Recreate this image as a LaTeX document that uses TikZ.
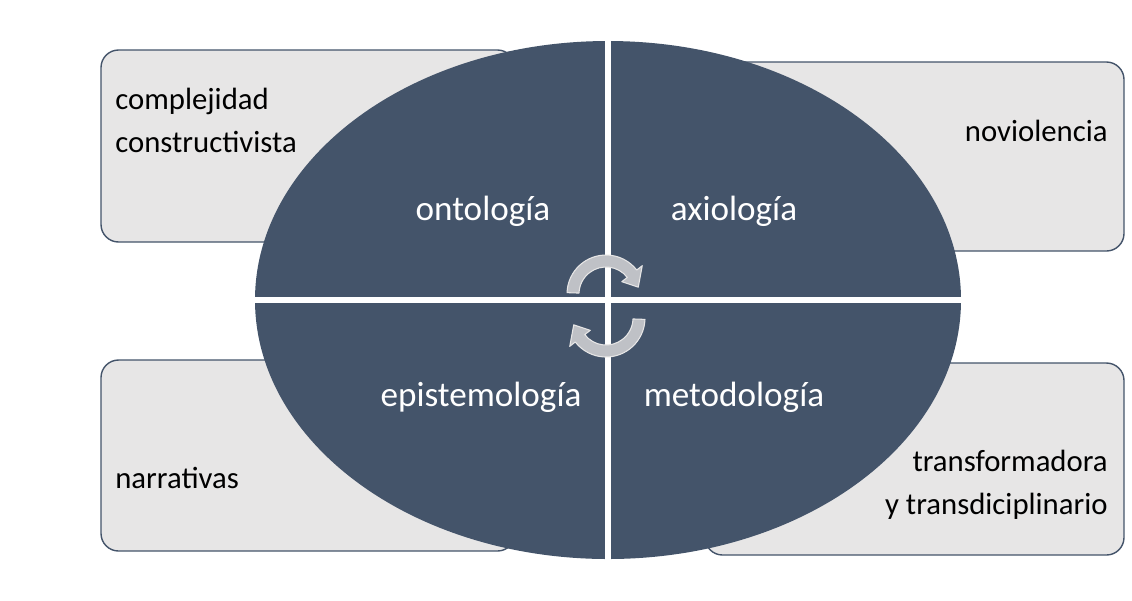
\documentclass[tikz,border=0pt]{standalone}
\usepackage{fontspec}
\setmainfont{Carlito}
\usetikzlibrary{calc}
\definecolor{slate}{HTML}{44546A}
\definecolor{paper}{HTML}{E7E6E6}
\definecolor{turn}{HTML}{BFC1C6}
\begin{document}
\begin{tikzpicture}[line cap=round,line join=round,x=0.02cm,y=-0.02cm,
  box/.style={draw=slate,fill=paper,rounded corners=10pt,line width=0.8pt},
  quad/.style={text=white,font=\fontsize{20}{24}\selectfont},
  side/.style={font=\fontsize{17.5}{24.5}\selectfont,inner sep=0pt}]
\useasboundingbox (0,0) rectangle (1132,600);
% boxes behind the ellipse
\draw [box] (101,50) rectangle (515,242);
\draw [box] (705,62) rectangle (1124,251);
\draw [box] (101,360) rectangle (515,551);
\draw [box] (705,363) rectangle (1124,555);
\node[side,anchor=north west,align=left] (cc) at (115,88) {complejidad\\constructivista};
\node[side,anchor=east] (nv) at (1108,131) {noviolencia};
\node[side,anchor=west] (na) at (115,478) {narrativas};
\node[side,anchor=north east,align=right] (tt) at (1108,450) {transformadora\\y transdiciplinario};
% ellipse split in four
\coordinate (c) at (608,300);
\fill [slate] (c) ellipse [x radius=353, y radius=259];
\draw [white,line width=3pt] (608,38) -- (608,562);
\draw [white,line width=3pt] (250,300) -- (966,300);
\node[quad] (onto) at (483,211) {ontología};
\node[quad] (axio) at (734,211) {axiología};
\node[quad] (epis) at (481,397) {epistemología};
\node[quad] (meto) at (734,397) {metodología};
% turning arrows
\coordinate (up) at (606,294);
\coordinate (dn) at (606,318);
\filldraw [fill=turn,draw=paper,line width=0.6pt]
  ($(up)+(182:39)$) arc [start angle=182,end angle=322,radius=39]
  -- ($(up)+(322:46)$) -- ($(up)+(348:33)$) -- ($(up)+(322:20)$)
  -- ($(up)+(322:27)$) arc [start angle=322,end angle=182,radius=27] -- cycle;
\filldraw [fill=turn,draw=paper,line width=0.6pt]
  ($(dn)+(2:39)$) arc [start angle=2,end angle=142,radius=39]
  -- ($(dn)+(142:46)$) -- ($(dn)+(168:33)$) -- ($(dn)+(142:20)$)
  -- ($(dn)+(142:27)$) arc [start angle=142,end angle=2,radius=27] -- cycle;
\end{tikzpicture}
\end{document}
